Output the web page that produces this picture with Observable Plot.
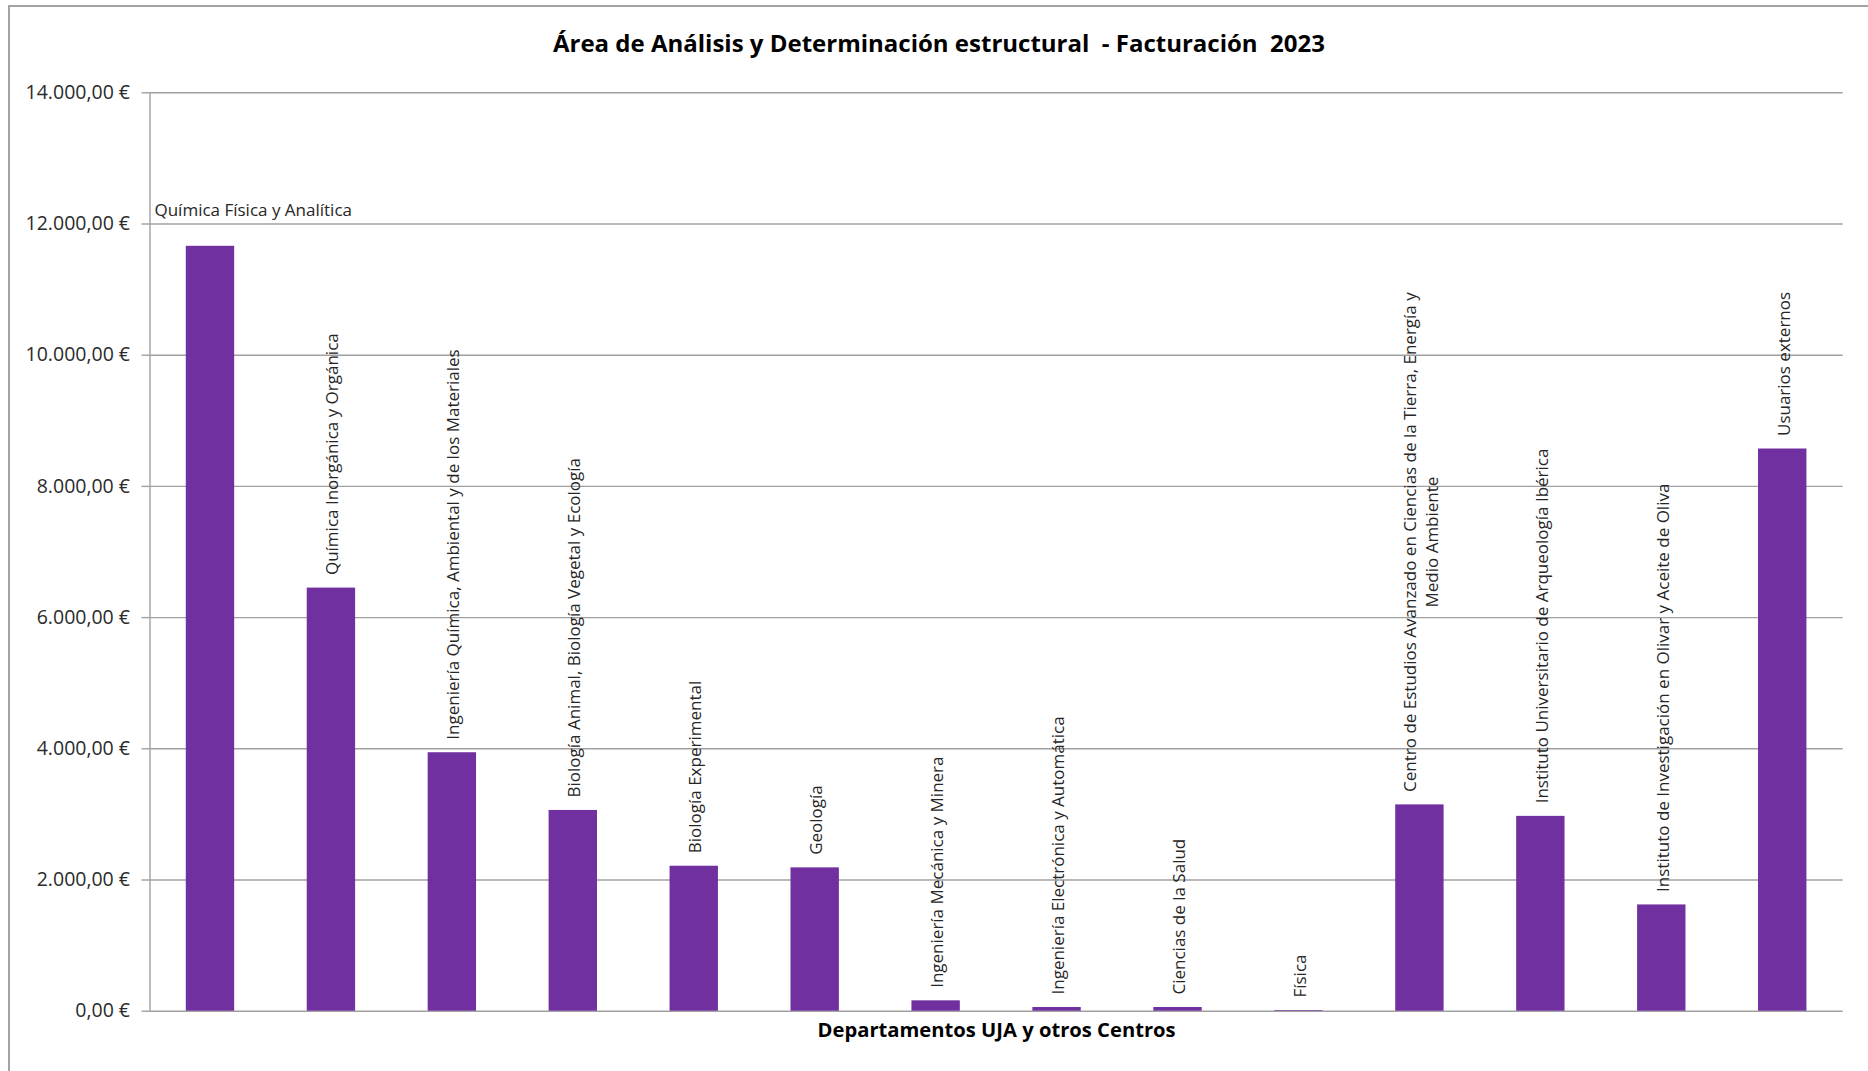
<!DOCTYPE html>
<html lang="es">
<head>
<meta charset="utf-8">
<script src="https://cdn.jsdelivr.net/npm/d3@7"></script>
<script src="https://cdn.jsdelivr.net/npm/@observablehq/plot@0.6"></script>
<style>
  html, body { margin: 0; padding: 0; background: #fff; }
  body { width: 1868px; height: 1071px; overflow: hidden; position: relative; font-family: "Open Sans", sans-serif; }
  #border { position: absolute; left: 8px; top: 5px; width: 1900px; height: 1100px;
            border-left: 2px solid #a3a3a3; border-top: 2px solid #a3a3a3; box-sizing: border-box; }
  #title { position: absolute; left: 10px; width: 1858px; top: 26.4px; text-align: center;
           font-weight: 700; font-size: 24px; line-height: 34px; white-space: pre; color: #000; }
  #chart { position: absolute; left: 0; top: 72px; }
</style>
</head>
<body>
<div id="border"></div>
<div id="title"></div>
<div id="chart"></div>
<script>
// Chart texts
const title = "Área de Análisis y Determinación estructural  - Facturación  2023";
const xTitle = "Departamentos UJA y otros Centros";

// Departments and centres (a line break splits the longest name in two)
const departments = [
  "Química Física y Analítica",
  "Química Inorgánica y Orgánica",
  "Ingeniería Química, Ambiental y de los Materiales",
  "Biología Animal, Biología Vegetal y Ecología",
  "Biología Experimental",
  "Geología",
  "Ingeniería Mecánica y Minera",
  "Ingeniería Electrónica y Automática",
  "Ciencias de la Salud",
  "Física",
  "Centro de Estudios Avanzado en Ciencias de la Tierra, Energía y\nMedio Ambiente",
  "Instituto Universitario de Arqueología Ibérica",
  "Instituto de Investigación en Olivar y Aceite de Oliva",
  "Usuarios externos"
];

// Billing per department, in euros
const amounts = [11660, 6450, 3940, 3060, 2210, 2185, 158, 56, 56, 10, 3145, 2970, 1620, 8570];

// Value axis ticks
const yTicks = [0, 2000, 4000, 6000, 8000, 10000, 12000, 14000];

const data = departments.map((department, i) => ({department, amount: amounts[i]}));

const locale = d3.formatLocale({decimal: ",", thousands: ".", grouping: [3], currency: ["", " €"]});
const euro = locale.format("$,.2f");

document.getElementById("title").textContent = title;

const gridColor = "#a0a0a0";
const purple = "#7030a0";

const plot = Plot.plot({
  width: 1868,
  height: 999,
  marginTop: 20.3,
  marginBottom: 60.3,
  marginLeft: 149.5,
  marginRight: 25.3,
  style: {fontFamily: "'Open Sans', sans-serif", background: "transparent", overflow: "visible"},
  x: {domain: departments, paddingInner: 0.6, paddingOuter: 0.3, round: false, axis: null},
  y: {domain: [0, 14000]},
  marks: [
    Plot.gridY(yTicks, {stroke: gridColor, strokeOpacity: 1, strokeWidth: 1.4}),
    Plot.axisY(yTicks, {
      tickFormat: euro, tickSize: 8, tickPadding: 12,
      stroke: gridColor, strokeWidth: 1.4, fill: "#2b2b2b", fontSize: 19.5, label: null
    }),
    Plot.frame({anchor: "left", stroke: gridColor, strokeWidth: 1.4}),
    Plot.barY(data, {x: "department", y: "amount", fill: purple}),
    // vertical labels above each bar
    Plot.text(data.slice(1), {
      x: "department", y: "amount", text: "department",
      rotate: -90, textAnchor: "start", lineAnchor: "middle", lineHeight: 1.3,
      dy: -13, fontSize: 17, fill: "#262626"
    }),
    // the tallest bar keeps its label horizontal
    Plot.text(data.slice(0, 1), {
      x: "department", y: "amount", text: "department",
      textAnchor: "start", lineAnchor: "middle",
      dx: -56, dy: -36, fontSize: 17, fill: "#262626"
    }),
    Plot.text([xTitle], {
      frameAnchor: "bottom", lineAnchor: "middle", dy: 19.8,
      fontSize: 20.2, fontWeight: 700, fill: "#000"
    })
  ]
});

document.getElementById("chart").append(plot);

// Two-line labels: centre each line along the label direction
for (const t of plot.querySelectorAll("text")) {
  const spans = t.querySelectorAll("tspan");
  if (spans.length < 2) continue;
  const lens = [...spans].map(s => s.getComputedTextLength());
  const longest = Math.max(...lens);
  t.setAttribute("text-anchor", "middle");
  spans.forEach(s => s.setAttribute("x", longest / 2));
}
</script>
</body>
</html>
